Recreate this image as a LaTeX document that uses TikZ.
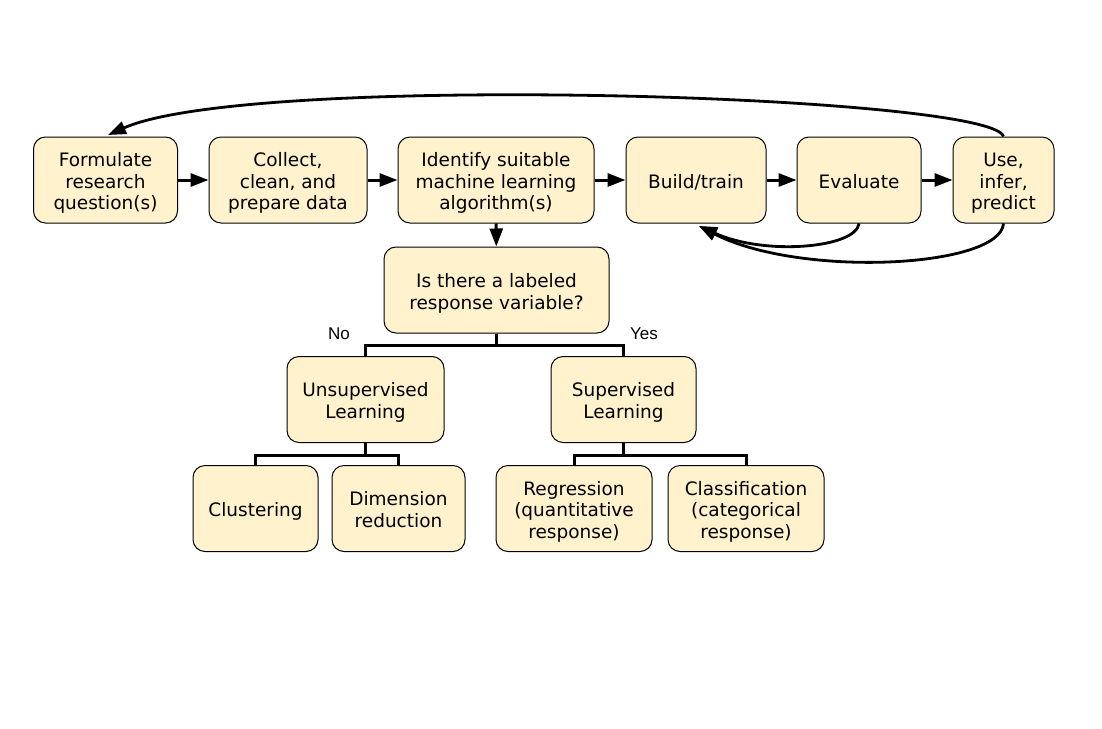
\documentclass[tikz,border=0pt]{standalone}
\usepackage{fontspec}
\setmainfont{DejaVu Sans}
\newfontfamily\lblfont{Liberation Sans}
\usetikzlibrary{arrows.meta}
\definecolor{boxfill}{HTML}{FFF2CC}
\newcommand{\bxt}[1]{\raisebox{-8.2pt}[0pt][0pt]{\begin{tabular}{@{}c@{}}#1\end{tabular}}}
\begin{document}
\begin{tikzpicture}[x=1pt,y=-1pt,
  box/.style={draw=black, line width=1pt, fill=boxfill, rounded corners=12pt,
    minimum height=86pt, align=center, inner sep=0pt,
    font=\fontsize{18.5}{21.7}\selectfont},
  conn/.style={line width=3pt},
  arr/.style={line width=3pt, -{Triangle[length=18pt,width=13pt]}},
  carr/.style={line width=2.8pt, -{Triangle[length=18pt,width=13pt]}},
  lbl/.style={font=\lblfont\fontsize{17}{20}\selectfont}]
\useasboundingbox (0,0) rectangle (1102,728);
\node[box, minimum width=144pt] (form) at (105.5,180) {\bxt{Formulate\\research\\question(s)}};
\node[box, minimum width=158pt] (coll) at (288,180) {\bxt{Collect,\\clean, and\\prepare data}};
\node[box, minimum width=196pt] (iden) at (496,180) {\bxt{Identify suitable\\machine learning\\algorithm(s)}};
\node[box, minimum width=140pt] (build) at (696,180) {\bxt{Build/train}};
\node[box, minimum width=124pt] (eval) at (859,180) {\bxt{Evaluate}};
\node[box, minimum width=101pt] (use) at (1003.5,180) {\bxt{Use,\\infer,\\predict}};
\node[box, minimum width=225pt] (isq) at (496.5,290) {\bxt{Is there a labeled\\response variable?}};
\node[box, minimum width=157pt] (unsup) at (365.5,399.5) {\bxt{Unsupervised\\Learning}};
\node[box, minimum width=145pt] (sup) at (623.5,399.5) {\bxt{Supervised\\Learning}};
\node[box, minimum width=125pt] (clus) at (255.5,508.5) {\bxt{Clustering}};
\node[box, minimum width=133pt] (dim) at (398.5,508.5) {\bxt{Dimension\\reduction}};
\node[box, minimum width=156pt] (reg) at (574,508.5) {\bxt{Regression\\(quantitative\\response)}};
\node[box, minimum width=156pt] (cls) at (746,508.5) {\bxt{Classification\\(categorical\\response)}};
% horizontal flow
\draw[arr] (form) -- (coll);
\draw[arr] (coll) -- (iden);
\draw[arr] (iden) -- (build);
\draw[arr] (build) -- (eval);
\draw[arr] (eval) -- (use);
\draw[arr] (iden) -- (isq);
% feedback curves
\coordinate (topend) at (108,135);
\coordinate (bend) at (699,226);
\draw[carr] (use.north) .. controls (992,95) and (250,72) .. (topend);
\draw[carr] (eval.south) .. controls (856,248) and (765,256) .. (bend);
\draw[carr] (use.south) .. controls (1000,268) and (800,278) .. (bend);
% tree
\draw[conn] (isq.south) -- ++(0,12) -| (unsup.north);
\draw[conn] (isq.south) -- ++(0,12) -| (sup.north);
\draw[conn] (unsup.south) -- ++(0,12) -| (clus.north);
\draw[conn] (unsup.south) -- ++(0,12) -| (dim.north);
\draw[conn] (sup.south) -- ++(0,12) -| (reg.north);
\draw[conn] (sup.south) -- ++(0,12) -| (cls.north);
\node[lbl] (no) at (339,334) {No};
\node[lbl] (yes) at (644,334) {Yes};
\end{tikzpicture}
\end{document}
